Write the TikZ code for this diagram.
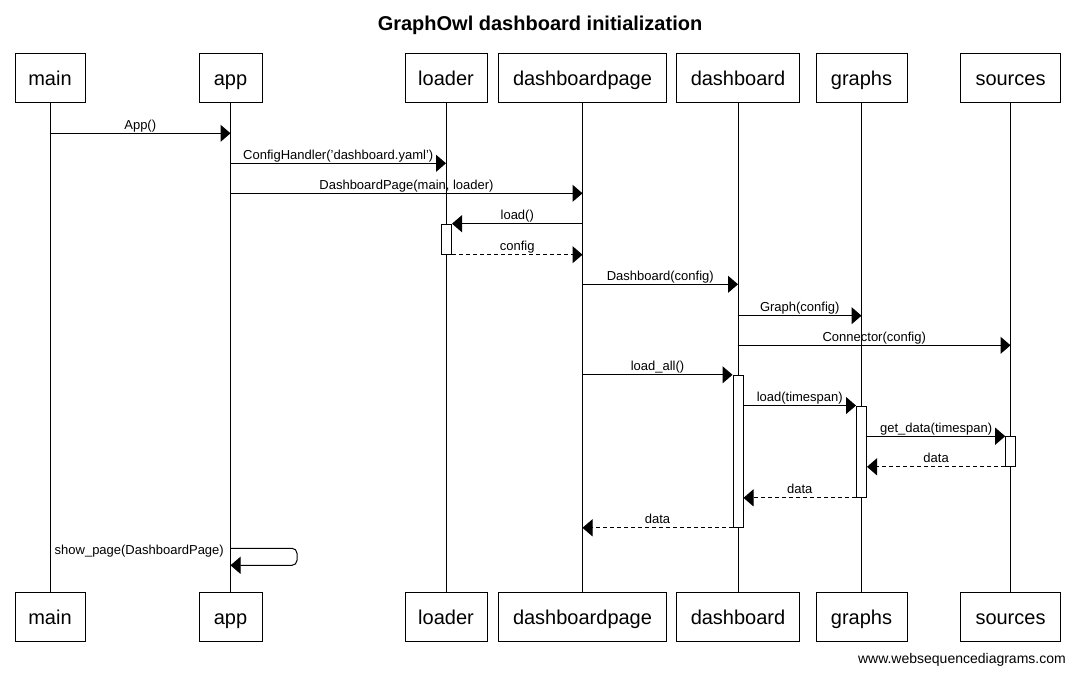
\documentclass[tikz,border=0pt]{standalone}
\usepackage{fontspec}
\setmainfont{Liberation Sans}
\usetikzlibrary{arrows.meta,calc}
\begin{document}
\begin{tikzpicture}[x=1pt,y=-1pt,
  actor/.style={draw,line width=1pt,minimum height=49pt,inner sep=0pt,text height=16pt,text depth=0pt,font=\fontsize{20}{24}\selectfont},
  life/.style={line width=1pt},
  msg/.style={line width=1pt,-{Triangle[length=10pt,width=17pt]}},
  ret/.style={msg,dash pattern=on 4pt off 3pt},
  lbl/.style={font=\fontsize{13}{15}\selectfont,anchor=base,inner sep=0pt,yshift=4pt},
  act/.style={draw,fill=white,line width=1pt,inner sep=0pt,minimum width=10pt}]
\fill[white] (0,0) rectangle (1075,675);
\useasboundingbox (0,0) rectangle (1075,675);

\node[font=\bfseries\fontsize{20}{24}\selectfont,anchor=base,inner sep=0pt] (title) at (540,30.5) {GraphOwl dashboard initialization};

% actors top
\node[actor,minimum width=70pt]  (mainT) at (50,77.5) {main};
\node[actor,minimum width=63pt]  (appT)  at (230.5,77.5) {app};
\node[actor,minimum width=82pt]  (ldT)   at (446,77.5) {loader};
\node[actor,minimum width=168pt] (dpT)   at (582.5,77.5) {dashboardpage};
\node[actor,minimum width=123pt] (dbT)   at (738,77.5) {dashboard};
\node[actor,minimum width=91pt]  (grT)   at (861.5,77.5) {graphs};
\node[actor,minimum width=100pt] (srT)   at (1010.5,77.5) {sources};
% actors bottom
\node[actor,minimum width=70pt]  (mainB) at (50,616.5) {main};
\node[actor,minimum width=63pt]  (appB)  at (230.5,616.5) {app};
\node[actor,minimum width=82pt]  (ldB)   at (446,616.5) {loader};
\node[actor,minimum width=168pt] (dpB)   at (582.5,616.5) {dashboardpage};
\node[actor,minimum width=123pt] (dbB)   at (738,616.5) {dashboard};
\node[actor,minimum width=91pt]  (grB)   at (861.5,616.5) {graphs};
\node[actor,minimum width=100pt] (srB)   at (1010.5,616.5) {sources};

% lifelines
\foreach \a in {main,app,ld,dp,db,gr,sr}
  \draw[life] (\a T.south) -- (\a B.north);

% activations
\node[act,minimum height=30pt]  (la) at (446.5,239.2) {};
\node[act,minimum height=152pt] (da) at (738,451.3) {};
\node[act,minimum height=91.3pt] (ga) at (861.5,451.7) {};
\node[act,minimum height=29.6pt] (sa) at (1010.7,451.5) {};

% messages
\draw[msg] (mainT |- 0,133.3) -- node[lbl] (l1) {App()} (appT |- 0,133.3);
\draw[msg] (appT |- 0,163.3) -- node[lbl] (l2) {ConfigHandler('dashboard.yaml')} (ldT |- 0,163.3);
\draw[msg] (appT |- 0,193.3) -- node[lbl] (l3) {DashboardPage(main, loader)} (dpT |- 0,193.3);
\draw[msg] (dpT |- la.north east) -- node[lbl] (l4) {load()} (la.north east);
\draw[ret] (la.south east) -- node[lbl] (l5) {config} (dpT |- la.south east);
\draw[msg] (dpT |- 0,284.3) -- node[lbl] (l6) {Dashboard(config)} (dbT |- 0,284.3);
\draw[msg] (dbT |- 0,315.7) -- node[lbl] (l7) {Graph(config)} (grT |- 0,315.7);
\draw[msg] (dbT |- 0,345.3) -- node[lbl] (l8) {Connector(config)} (srT |- 0,345.3);
\draw[msg] (dpT |- da.north west) -- node[lbl] (l9) {load\_all()} (da.north west);
\draw[msg] (da.east |- ga.north west) -- node[lbl] (l10) {load(timespan)} (ga.north west);
\draw[msg] (ga.east |- sa.north west) -- node[lbl] (l11) {get\_data(timespan)} (sa.north west);
\draw[ret] (sa.south west) -- node[lbl] (l12) {data} (ga.east |- sa.south west);
\draw[ret] (ga.south west) -- node[lbl] (l13) {data} (da.east |- ga.south west);
\draw[ret] (da.south west) -- node[lbl] (l14) {data} (dpT |- da.south west);

% self message
\coordinate (selfR) at (297,548.3);
\draw[msg,rounded corners=5pt] (appT |- selfR) -- (selfR) -- (selfR |- 0,565.3) -- (appT |- 0,565.3);
\node[font=\fontsize{13}{15}\selectfont,inner sep=0pt,anchor=base east] (l15) at (224,554) {show\_page(DashboardPage)};

\node[anchor=base east,font=\fontsize{14}{16}\selectfont,inner sep=0pt] (footer) at (1066,663) {www.websequencediagrams.com};
\end{tikzpicture}
\end{document}
